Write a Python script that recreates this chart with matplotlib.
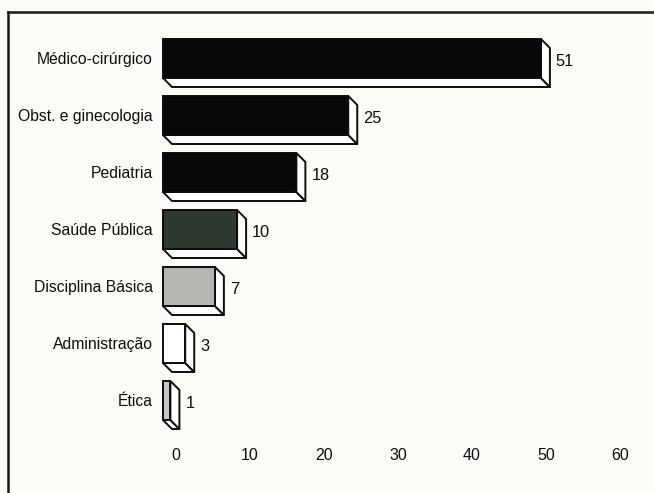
import matplotlib.pyplot as plt
from matplotlib.patches import Polygon, Rectangle
from matplotlib.lines import Line2D

# areas and number of items in each
categories = ['Médico-cirúrgico', 'Obst. e ginecologia', 'Pediatria', 'Saúde Pública',
              'Disciplina Básica', 'Administração', 'Ética']
values = [51, 25, 18, 10, 7, 3, 1]
face_colors = ['#080808', '#080808', '#080808', '#2e392f', '#b5b5b1', '#ffffff', '#c6c6c2']
tick_values = [0, 10, 20, 30, 40, 50, 60]

plt.rcParams['font.family'] = ['Liberation Sans', 'DejaVu Sans']
bg = '#fcfbf6'
ink = '#0d0d0d'

W, H = 654, 493
fig = plt.figure(figsize=(W / 100, H / 100), dpi=100, facecolor=bg)
left_px, right_px, top_px, bot_px = 8, 654, 12, 440
ax = fig.add_axes([left_px / W, (H - bot_px) / H, (right_px - left_px) / W, (bot_px - top_px) / H])
ax.set_facecolor(bg)

px_x = 7.41      # pixels per unit on x
px_y = 57.0      # pixels per row
x0_px, y0_px = 163, 58.5
ax.set_xlim((left_px - x0_px) / px_x, (right_px - x0_px) / px_x)
ax.set_ylim((bot_px - y0_px) / px_y, (top_px - y0_px) / px_y)

for s in ['right', 'bottom', 'left']:
    ax.spines[s].set_visible(False)
ax.spines['top'].set_linewidth(1.8)
ax.spines['top'].set_color('#1a1a1a')
# frame line on the left runs down to the bottom edge
fig.add_artist(Line2D([left_px / W, left_px / W], [0, 1 - top_px / H],
                      transform=fig.transFigure, color='#1a1a1a', lw=1.8))

h = 39 / px_y    # front face height
dx = 9 / px_x    # depth to the right
dy = 9 / px_y    # depth downwards
lw = 1.4

for i, (name, v, fc) in enumerate(zip(categories, values, face_colors)):
    top, bot = i - h / 2, i + h / 2
    # bottom face
    ax.add_patch(Polygon([(0, bot), (v, bot), (v + dx, bot + dy), (dx, bot + dy)],
                         closed=True, facecolor='white', edgecolor=ink, lw=lw, joinstyle='round'))
    # side face
    ax.add_patch(Polygon([(v, top), (v + dx, top + dy), (v + dx, bot + dy), (v, bot)],
                         closed=True, facecolor='white', edgecolor=ink, lw=lw, joinstyle='round'))
    # front face
    ax.add_patch(Rectangle((0, top), v, h, facecolor=fc, edgecolor=ink, lw=lw))
    ax.text(v + dx + 0.8, i + 0.06, str(v), ha='left', va='center', fontsize=11.8, color=ink)
    ax.text(-10 / px_x, i + 0.02, name, ha='right', va='center', fontsize=11.3, color=ink)

ax.set_xticks([t + 1.7 for t in tick_values], labels=[str(t) for t in tick_values])
ax.tick_params(axis='x', length=0, pad=6, labelsize=11.5, labelcolor=ink)
ax.set_yticks([])

fig.savefig('out.png', dpi=100, facecolor=bg)
